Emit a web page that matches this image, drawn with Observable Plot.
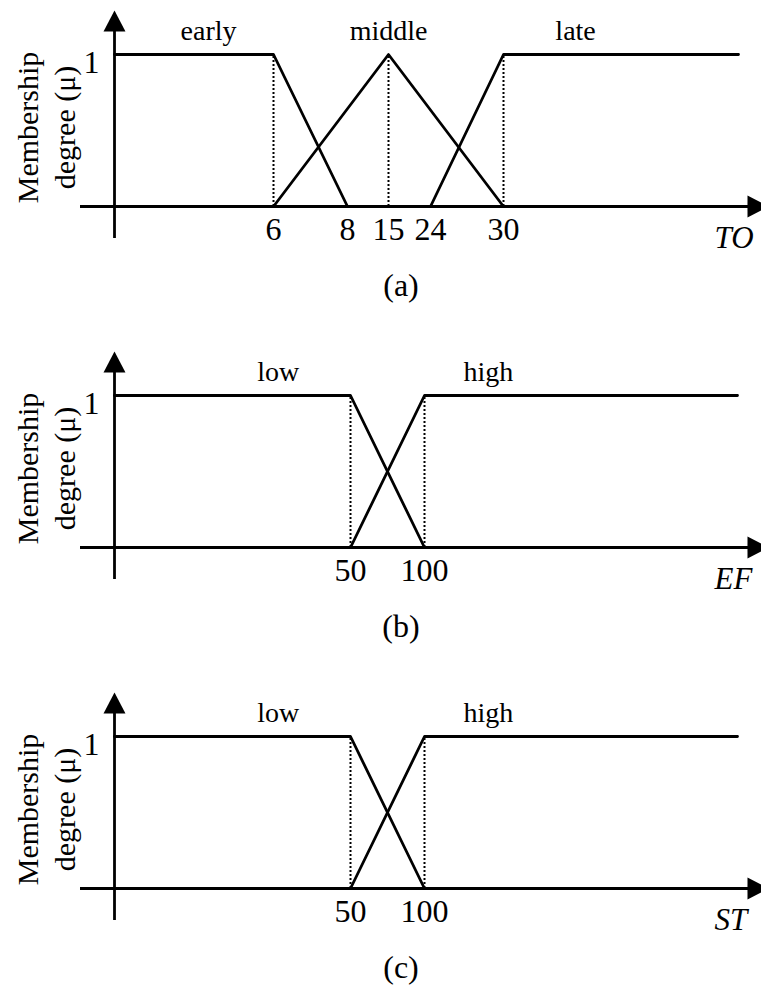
<!DOCTYPE html>
<html><head><meta charset="utf-8">
<script src="https://cdn.jsdelivr.net/npm/d3@7"></script>
<script src="https://cdn.jsdelivr.net/npm/@observablehq/plot@0.6"></script>
<style>
html,body{margin:0;padding:0;background:#fff}
#chart svg{display:block}
</style>
</head><body><div id="chart"></div>
<script>
// ---------- data ----------
// (a) TO
const toName = "TO";
const toSets = ["early", "middle", "late"];
const toEarly = [[0, 1], [6, 1], [8, 0]];
const toMiddle = [[6, 0], [15, 1], [30, 0]];
const toLate = [[24, 0], [30, 1], [45, 1]];
const toTicks = [6, 8, 15, 24, 30];
const toDotted = [6, 15, 30];

// (b) EF
const efName = "EF";
const efSets = ["low", "high"];
const efLow = [[0, 1], [50, 1], [100, 0]];
const efHigh = [[50, 0], [100, 1], [150, 1]];
const efTicks = [50, 100];
const efDotted = [50, 100];

// (c) ST
const stName = "ST";
const stSets = ["low", "high"];
const stLow = [[0, 1], [50, 1], [100, 0]];
const stHigh = [[50, 0], [100, 1], [150, 1]];
const stTicks = [50, 100];
const stDotted = [50, 100];

const yTicks = [1];
const yLabel = "Membership\ndegree (μ)";
const captions = ["(a)", "(b)", "(c)"];

// ---------- layout ----------
const W = 761;
const font = "'Liberation Serif', 'Times New Roman', serif";

// arrow heads as custom symbols
const arrowUp = {draw(ctx, size) {
  const k = Math.sqrt(size / Math.PI);
  ctx.moveTo(0, -1.17 * k); ctx.lineTo(1.22 * k, 1.17 * k); ctx.lineTo(-1.22 * k, 1.17 * k); ctx.closePath();
}};
const arrowRight = {draw(ctx, size) {
  const k = Math.sqrt(size / Math.PI);
  ctx.moveTo(1.17 * k, 0); ctx.lineTo(-1.17 * k, 1.22 * k); ctx.lineTo(-1.17 * k, -1.22 * k); ctx.closePath();
}};

function panel({height, xDomain, xRange, sets, curves, ticks, dotted, labelX, name, caption}) {
  const lines = curves.flatMap((c, i) => c.map(([x, y]) => ({set: sets[i], x, y})));
  return Plot.plot({
    width: W, height,
    marginTop: 24, marginLeft: 80, marginRight: 0, marginBottom: height - 238,
    x: {type: "linear", domain: xDomain, range: xRange, axis: null},
    y: {domain: [0, 1], range: [206, 54], axis: null},
    style: {fontFamily: font, color: "black", background: "white", overflow: "visible"},
    marks: [
      Plot.ruleX(dotted, {y1: 0, y2: 1, stroke: "black", strokeWidth: 2, strokeDasharray: "2,2"}),
      Plot.ruleY([0], {stroke: "black", strokeWidth: 2.8}),
      Plot.ruleX([0], {stroke: "black", strokeWidth: 2.8}),
      Plot.line(lines, {x: "x", y: "y", z: "set", stroke: "black", strokeWidth: 2.8}),
      Plot.dot([0], {x: d => d, frameAnchor: "top", symbol: arrowUp, r: 9, fill: "black", stroke: null, dy: -3.5}),
      Plot.dot([0], {y: d => d, frameAnchor: "right", symbol: arrowRight, r: 9, fill: "black", stroke: null, dx: -3.5}),
      Plot.text(ticks, {x: d => d, y: 0, text: d => String(d), lineAnchor: "top", dy: 11, fontSize: 32}),
      Plot.text(yTicks, {x: 0, y: d => d, text: d => String(d), textAnchor: "end", lineAnchor: "top", dx: -15, dy: -4, fontSize: 32}),
      Plot.text(sets, {x: (d, i) => labelX[i], y: 1, text: d => d, lineAnchor: "bottom", dy: -15, fontSize: 28}),
      Plot.text([yLabel], {x: 0, y: 0.52, text: d => d, rotate: -90, dx: -70, fontSize: 30, lineHeight: 1.25}),
      Plot.text([name], {y: 0, frameAnchor: "right", text: d => d, textAnchor: "start", dx: -47, dy: 32, fontStyle: "italic", fontSize: 31}),
      Plot.text([caption], {frameAnchor: "bottom", text: d => d, dx: -20, dy: 57, fontSize: 32})
    ]
  });
}

const root = document.getElementById("chart");
root.append(panel({
  height: 341, xDomain: [0, 6, 8, 15, 24, 30, 45], xRange: [114, 273, 347, 388, 430, 503, 738],
  sets: toSets, curves: [toEarly, toMiddle, toLate], ticks: toTicks, dotted: toDotted,
  labelX: [3.55, 15, 34.6], name: toName, caption: captions[0]
}));
root.append(panel({
  height: 341, xDomain: [0, 50, 100, 150], xRange: [114, 350, 424, 737],
  sets: efSets, curves: [efLow, efHigh], ticks: efTicks, dotted: efDotted,
  labelX: [34.7, 110.2], name: efName, caption: captions[1]
}));
root.append(panel({
  height: 310, xDomain: [0, 50, 100, 150], xRange: [114, 350, 424, 737],
  sets: stSets, curves: [stLow, stHigh], ticks: stTicks, dotted: stDotted,
  labelX: [34.7, 110.2], name: stName, caption: captions[2]
}));
</script>
</body></html>
